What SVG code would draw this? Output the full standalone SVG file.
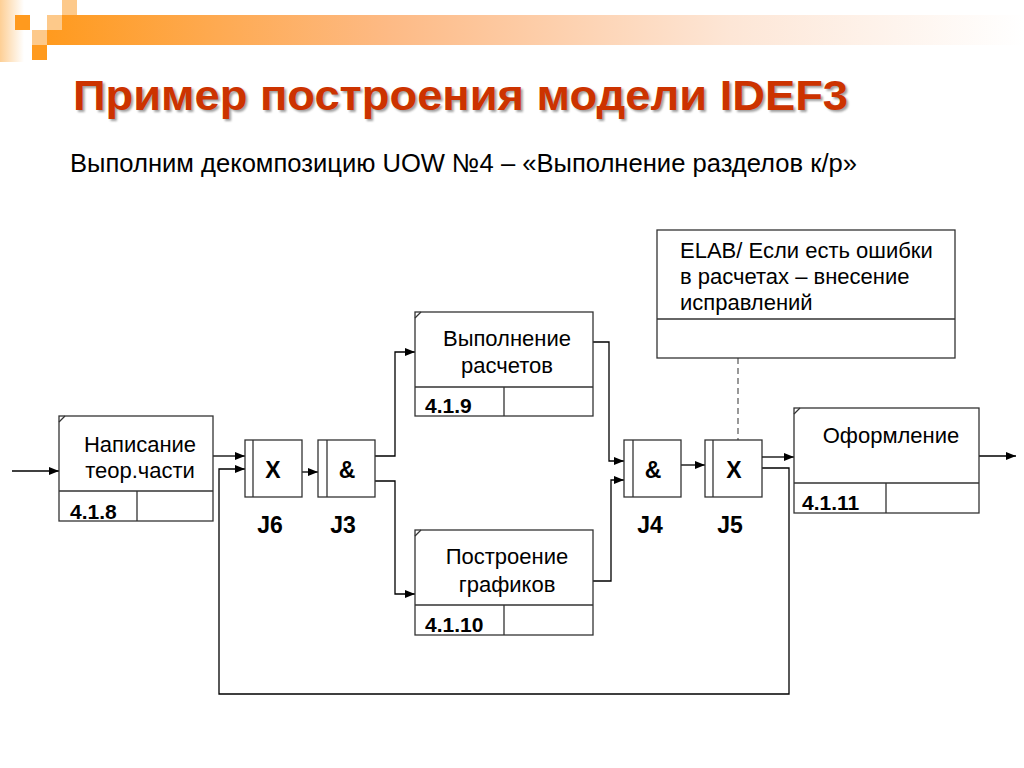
<svg xmlns="http://www.w3.org/2000/svg" width="1024" height="768" viewBox="0 0 1024 768">
<defs>
<linearGradient id="bar" x1="0" y1="0" x2="1" y2="0">
<stop offset="0" stop-color="#FF9A1E"/>
<stop offset="0.35" stop-color="#FDBA85"/>
<stop offset="0.7" stop-color="#FDE6D6"/>
<stop offset="1" stop-color="#FFFFFF"/>
</linearGradient>
<linearGradient id="strip" x1="0" y1="0" x2="1" y2="0">
<stop offset="0" stop-color="#FDCF95"/>
<stop offset="1" stop-color="#FFFFFF"/>
</linearGradient>
<marker id="arr" viewBox="0 0 10 8" refX="10" refY="4" markerWidth="10" markerHeight="8" markerUnits="userSpaceOnUse" orient="auto">
<path d="M0,0 L10,4 L0,8 Z" fill="#000"/>
</marker>
<filter id="sh" x="-5%" y="-20%" width="110%" height="140%">
<feGaussianBlur stdDeviation="1.2"/>
</filter>
</defs>
<style>
.box{fill:#fff;stroke:#333;stroke-width:1.3}
.ln{fill:none;stroke:#333;stroke-width:1.3}
.con{fill:none;stroke:#000;stroke-width:1.3;marker-end:url(#arr)}
.t{font-family:"Liberation Sans",Arial,sans-serif;font-size:22px;fill:#000;text-anchor:middle}
.num{font-family:"Liberation Sans",Arial,sans-serif;font-size:21px;font-weight:bold;fill:#000}
.jt{font-family:"Liberation Sans",Arial,sans-serif;font-size:23px;font-weight:bold;fill:#000;text-anchor:middle}
</style>
<rect width="1024" height="768" fill="#fff"/>
<g id="decor">
<rect x="0" y="0" width="24" height="62" fill="url(#strip)"/>
<rect x="47" y="15" width="977" height="30" fill="url(#bar)"/>
<rect x="15" y="15" width="15" height="15" fill="#FF9A1E"/>
<rect x="62" y="0" width="15" height="15" fill="#FDC98A"/>
<rect x="47" y="15" width="15" height="15" fill="#FDC98A"/>
<rect x="32" y="30" width="15" height="15" fill="#FDC98A"/>
<rect x="32" y="45" width="15" height="15" fill="#FF9A1E"/>
</g>
<g id="title">
<text x="75" y="112" font-family="'Liberation Sans',Arial,sans-serif" font-size="43" font-weight="bold" fill="#777" opacity="0.7" filter="url(#sh)" textLength="775" lengthAdjust="spacingAndGlyphs">Пример построения модели IDEF3</text>
<text x="73" y="110" font-family="'Liberation Sans',Arial,sans-serif" font-size="43" font-weight="bold" fill="#CC3300" textLength="775" lengthAdjust="spacingAndGlyphs">Пример построения модели IDEF3</text>
</g>
<text id="subtitle" x="70" y="172" font-family="'Liberation Sans',Arial,sans-serif" font-size="26" fill="#000" textLength="787" lengthAdjust="spacingAndGlyphs">Выполним декомпозицию UOW №4 – «Выполнение разделов к/р»</text>

<g id="connectors">
<path class="con" d="M12,471 H59"/>
<path class="con" d="M213,456 H245"/>
<path class="con" d="M762,468 H789 V694 H219 V469 H245"/>
<path class="con" d="M302,472 H318"/>
<path class="con" d="M375,456 H395 V352 H415"/>
<path class="con" d="M375,481 H395 V594 H415"/>
<path class="con" d="M593,342 H609 V461 H624"/>
<path class="con" d="M593,581 H611 V480 H624"/>
<path class="con" d="M681,465 H705"/>
<path class="con" d="M762,457 H794"/>
<path class="con" d="M979,456 H1016"/>
<path d="M738,358 V440" fill="none" stroke="#555" stroke-width="1.2" stroke-dasharray="6,4"/>
</g>

<g id="uow418">
<rect class="box" x="59" y="416" width="154" height="105"/>
<path class="ln" d="M59,491 H213 M137,491 V521 M59,422 L65,416"/>
<text class="t" x="140" y="452">Написание</text>
<text class="t" x="140" y="478">теор.части</text>
<text class="num" x="70" y="519">4.1.8</text>
</g>

<g id="uow419">
<rect class="box" x="415" y="312" width="178" height="104"/>
<path class="ln" d="M415,387 H593 M504,387 V416 M415,318 L421,312"/>
<text class="t" x="507" y="346">Выполнение</text>
<text class="t" x="507" y="373">расчетов</text>
<text class="num" x="425" y="413">4.1.9</text>
</g>

<g id="uow4110">
<rect class="box" x="415" y="530" width="178" height="105"/>
<path class="ln" d="M415,605 H593 M504,605 V635 M415,536 L421,530"/>
<text class="t" x="507" y="564">Построение</text>
<text class="t" x="507" y="592">графиков</text>
<text class="num" x="425" y="632">4.1.10</text>
</g>

<g id="uow4111">
<rect class="box" x="794" y="408" width="185" height="105"/>
<path class="ln" d="M794,483 H979 M886,483 V513 M794,414 L800,408"/>
<text class="t" x="891" y="443">Оформление</text>
<text class="num" x="802" y="510">4.1.11</text>
</g>

<g id="J6">
<rect class="box" x="245" y="440" width="57" height="57"/>
<path class="ln" d="M253,440 V497"/>
<text class="jt" x="273" y="478">X</text>
<text class="jt" x="270" y="533">J6</text>
</g>
<g id="J3">
<rect class="box" x="318" y="440" width="57" height="57"/>
<path class="ln" d="M327,440 V497"/>
<text class="jt" x="347" y="478">&amp;</text>
<text class="jt" x="343" y="533">J3</text>
</g>
<g id="J4">
<rect class="box" x="624" y="440" width="57" height="57"/>
<path class="ln" d="M633,440 V497"/>
<text class="jt" x="653" y="478">&amp;</text>
<text class="jt" x="650" y="533">J4</text>
</g>
<g id="J5">
<rect class="box" x="705" y="440" width="57" height="57"/>
<path class="ln" d="M713,440 V497"/>
<text class="jt" x="734" y="478">X</text>
<text class="jt" x="730" y="533">J5</text>
</g>

<g id="elab">
<rect class="box" x="657" y="230" width="298" height="128"/>
<path class="ln" d="M657,319 H955"/>
<text font-family="'Liberation Sans',Arial,sans-serif" font-size="22" fill="#000">
<tspan x="680" y="258">ELAB/ Если есть ошибки</tspan>
<tspan x="680" y="284">в расчетах – внесение</tspan>
<tspan x="680" y="310">исправлений</tspan>
</text>
</g>
</svg>
